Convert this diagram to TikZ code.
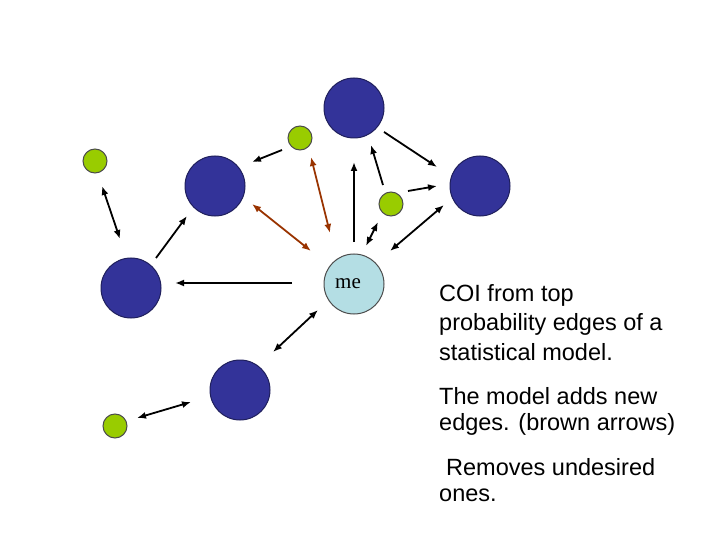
\documentclass[tikz,border=0pt]{standalone}
\usepackage{fontspec}
\setmainfont{Liberation Serif}
\newfontfamily\arial{Liberation Sans}
\usetikzlibrary{arrows.meta}
\definecolor{blu}{HTML}{333399}
\definecolor{grn}{HTML}{99CC00}
\definecolor{lb}{HTML}{B4DEE4}
\definecolor{brn}{HTML}{993300}
\begin{document}
\begin{tikzpicture}[x=1pt,y=-1pt,
 big/.style={circle,draw=blu!60!black,line width=1pt,fill=blu,minimum size=60pt,inner sep=0pt},
 sm/.style={circle,draw=black!70,line width=1pt,fill=grn,minimum size=24pt,inner sep=0pt},
 ar/.style={-{Latex[length=9pt,width=7pt]},line width=1.8pt},
 dar/.style={{Latex[length=9pt,width=7pt]}-{Latex[length=9pt,width=7pt]},line width=1.8pt},
 bar/.style={dar,brn},
 txt/.style={anchor=west,font=\arial\fontsize{23.5}{28}\selectfont,inner sep=0pt}]
\useasboundingbox (0,0) rectangle (720,540);
\node[big] (A) at (354,108) {};
\node[big] (B) at (215,186) {};
\node[big] (C) at (480,186) {};
\node[big] (D) at (131,288) {};
\node[big] (E) at (240,390) {};
\node[sm] (g1) at (95,161) {};
\node[sm] (g2) at (300,138) {};
\node[sm] (g3) at (391,204) {};
\node[sm] (g4) at (115,426) {};
\node[circle,draw=black!70,line width=1pt,fill=lb,minimum size=60pt,inner sep=0pt] (me) at (354,284) {};
\node (mt) at (348,284) {\fontsize{21}{24}\selectfont me};
\coordinate (a1) at (102,186); \coordinate (a2) at (120,239);
\draw[dar] (a1) -- (a2);
\coordinate (b1) at (282,150); \coordinate (b2) at (252,162);
\draw[ar] (b1) -- (b2);
\coordinate (c1) at (311,157); \coordinate (c2) at (330,233);
\draw[bar] (c1) -- (c2);
\coordinate (d1) at (252,204); \coordinate (d2) at (311,251);
\draw[bar] (d1) -- (d2);
\coordinate (e1) at (354,242); \coordinate (e2) at (354,162);
\draw[ar] (e1) -- (e2);
\coordinate (f1) at (383,185); \coordinate (f2) at (371,145);
\draw[ar] (f1) -- (f2);
\coordinate (h1) at (384,132); \coordinate (h2) at (437,167);
\draw[ar] (h1) -- (h2);
\coordinate (i1) at (408,191); \coordinate (i2) at (437,186);
\draw[ar] (i1) -- (i2);
\coordinate (j1) at (366,246); \coordinate (j2) at (378,222);
\draw[dar] (j1) -- (j2);
\coordinate (k1) at (390,251); \coordinate (k2) at (444,205);
\draw[dar] (k1) -- (k2);
\coordinate (l1) at (156,258); \coordinate (l2) at (187,216);
\draw[ar] (l1) -- (l2);
\coordinate (m1) at (292,283); \coordinate (m2) at (175,283);
\draw[ar] (m1) -- (m2);
\coordinate (n1) at (273,352); \coordinate (n2) at (318,310);
\draw[dar] (n1) -- (n2);
\coordinate (o1) at (137,418); \coordinate (o2) at (191,402);
\draw[dar] (o1) -- (o2);
\node[txt] (t1) at (439,295) {COI from top};
\node[txt] (t2) at (439,324) {probability edges of a};
\node[txt] (t3) at (439,352) {statistical model.};
\node[txt] (t4) at (439,396) {The model adds new};
\node[txt] (t5) at (439,424) {edges. (brown arrows)};
\node[txt] (t6) at (446,467) {Removes undesired};
\node[txt] (t7) at (439,495) {ones.};
\end{tikzpicture}
\end{document}
